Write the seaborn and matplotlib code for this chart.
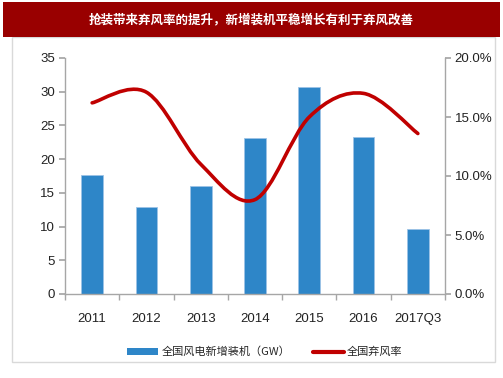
import numpy as np
import pandas as pd
import matplotlib
matplotlib.use('Agg')
import matplotlib.pyplot as plt
import seaborn as sns
from matplotlib.path import Path
from matplotlib.patches import PathPatch, Rectangle
from matplotlib.lines import Line2D
from matplotlib.ticker import FuncFormatter

# Data
years = ['2011', '2012', '2013', '2014', '2015', '2016', '2017Q3']
new_capacity_gw = [17.6, 12.9, 16.0, 23.2, 30.7, 23.3, 9.6]
curtailment_rate = [0.162, 0.171, 0.110, 0.080, 0.150, 0.170, 0.136]

title = '抢装带来弃风率的提升，新增装机平稳增长有利于弃风改善'
bar_label = '全国风电新增装机（GW）'
line_label = '全国弃风率'

bar_col = '#2E86C8'
line_col = '#C00000'
banner_col = '#990000'
axis_col = '#A6A6A6'

sns.set_theme(style='white')
plt.rcParams['font.family'] = ['Liberation Sans', 'Noto Sans CJK SC', 'DejaVu Sans']
cjk = ['Noto Sans CJK SC', 'DejaVu Sans']

fig = plt.figure(figsize=(5.03, 3.78), dpi=100)
fig.patch.set_facecolor('white')

# Outer frame and title banner
fig.patches.append(Rectangle((12 / 503, 1 - 362 / 378), 483 / 503, 325 / 378,
                             transform=fig.transFigure, fill=False,
                             edgecolor='#D9D9D9', linewidth=1.0, zorder=0))
fig.patches.append(Rectangle((3 / 503, 1 - 37 / 378), 497 / 503, 35 / 378,
                             transform=fig.transFigure, facecolor=banner_col,
                             edgecolor='none', zorder=1))
fig.text(0.5, 1 - 19.5 / 378, title, color='white', fontsize=9, fontweight='bold',
         ha='center', va='center', family=cjk, zorder=2)

ax = fig.add_axes([65 / 503, 1 - 294 / 378, 380 / 503, 236 / 378])
df = pd.DataFrame({'year': years, 'cap': new_capacity_gw})
sns.barplot(data=df, x='year', y='cap', color=bar_col, width=0.4,
            edgecolor='#9DC3E6', linewidth=0.6, saturation=1, ax=ax, zorder=2)
ax.set_ylim(0, 35)
ax.set_yticks(np.arange(0, 36, 5))
ax.set_xlim(-0.5, len(years) - 0.5)
ax.set_xlabel('')
ax.set_ylabel('')

# right axis with smoothed line
ax2 = ax.twinx()
ax2.set_ylim(0, 0.2)
ax2.set_yticks(np.arange(0, 0.201, 0.05))
ax2.yaxis.set_major_formatter(FuncFormatter(lambda v, p: f'{v * 100:.1f}%'))

xs = np.arange(len(years), dtype=float)
pts = np.column_stack([xs, curtailment_rate])
verts = [pts[0]]
codes = [Path.MOVETO]
for i in range(len(pts) - 1):
    p0 = pts[max(i - 1, 0)]
    p1 = pts[i]
    p2 = pts[i + 1]
    p3 = pts[min(i + 2, len(pts) - 1)]
    c1 = p1 + (p2 - p0) / 6
    c2 = p2 - (p3 - p1) / 6
    verts += [c1, c2, p2]
    codes += [Path.CURVE4] * 3
ax2.add_patch(PathPatch(Path(verts, codes), fill=False, edgecolor=line_col,
                        linewidth=2.6, capstyle='round', zorder=3))

for a in (ax, ax2):
    for s in a.spines.values():
        s.set_visible(False)
    a.grid(False)
    a.set_facecolor('none')
ax.spines['left'].set_visible(True)
ax.spines['bottom'].set_visible(True)
ax2.spines['right'].set_visible(True)
for s in (ax.spines['left'], ax.spines['bottom'], ax2.spines['right']):
    s.set_color(axis_col)
    s.set_linewidth(1.0)

ax.tick_params(axis='y', left=True, length=4, color=axis_col, labelsize=9.5,
               labelcolor='#222222', pad=3)
ax.tick_params(axis='x', bottom=False, labelsize=9.5, labelcolor='#222222', pad=8)
ax.set_xticks(np.arange(-0.5, len(years), 1), minor=True)
ax.tick_params(axis='x', which='minor', bottom=True, length=4, color=axis_col)
ax2.tick_params(axis='y', right=True, length=4, color=axis_col, labelsize=9.5,
                labelcolor='#222222', pad=3)

handles = [Rectangle((0, 0), 1, 1, facecolor=bar_col, edgecolor='none'),
           Line2D([0], [0], color=line_col, linewidth=3)]
leg = fig.legend(handles, [bar_label, line_label], loc='center',
                 bbox_to_anchor=(265 / 503, 1 - 352 / 378), ncol=2, frameon=False,
                 prop={'family': cjk, 'size': 8}, handlelength=2.8, handleheight=0.5,
                 columnspacing=2.0, handletextpad=0.3)

fig.savefig('out.png', dpi=100)
